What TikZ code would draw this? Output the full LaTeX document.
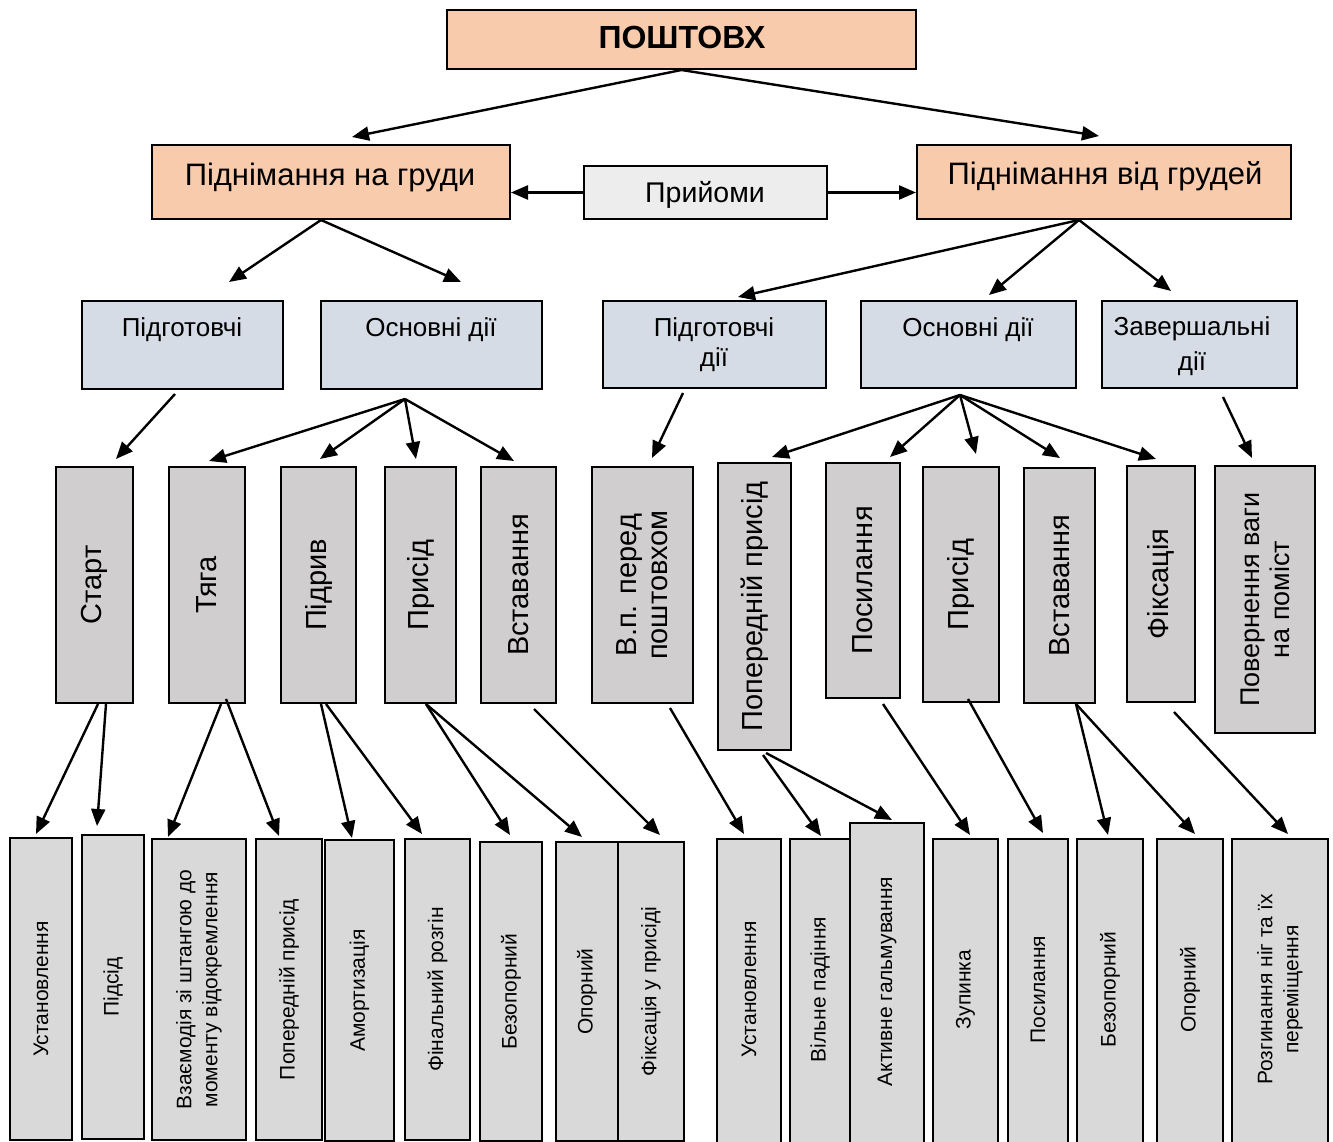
\documentclass[tikz,border=0pt]{standalone}
\usepackage{fontspec}
\setmainfont{Liberation Sans}
\usetikzlibrary{arrows.meta,fit}
\definecolor{peach}{HTML}{F8CBAD}
\definecolor{techfill}{HTML}{EDEDED}
\definecolor{phasefill}{HTML}{D6DCE5}
\definecolor{partfill}{HTML}{D0CECE}
\definecolor{elemfill}{HTML}{D9D9D9}
\begin{document}
\begin{tikzpicture}[x=1pt,y=-1pt,
  frame/.style={draw=black,line width=2pt,inner sep=0pt},
  mainbox/.style={frame,fill=peach},
  techbox/.style={frame,fill=techfill},
  phasebox/.style={frame,fill=phasefill},
  partbox/.style={frame,fill=partfill},
  elembox/.style={frame,fill=elemfill},
  ttl/.style={font=\fontsize{32}{36}\selectfont\bfseries,anchor=base,inner sep=0pt},
  big/.style={font=\fontsize{31}{36}\selectfont,anchor=base,inner sep=0pt},
  mid/.style={font=\fontsize{28.5}{32}\selectfont,anchor=base,inner sep=0pt},
  phase/.style={font=\fontsize{26}{30}\selectfont,anchor=base,inner sep=0pt},
  vpart/.style={font=\fontsize{29}{31}\selectfont,rotate=90,align=center,inner sep=0pt},
  vpartsm/.style={font=\fontsize{27}{30}\selectfont,rotate=90,align=center,inner sep=0pt},
  velem/.style={font=\fontsize{21}{26}\selectfont,rotate=90,align=center,inner sep=0pt},
  arr/.style={line width=2.4pt,-{Triangle[length=17pt,width=14pt]}},
]
\useasboundingbox (0,0) rectangle (1333,1142);
\fill[white] (0,0) rectangle (1333,1142);

% ---------- top levels ----------
\node[mainbox,fit={(447,10) (916,69)}] (top) {};
\node[ttl] (topt) at (682,49) {ПОШТОВХ};

\node[mainbox,fit={(152,145) (510,219)}] (L) {};
\node[big] (Lt) at (330,186) {Піднімання на груди};
\node[techbox,fit={(584,166) (827,219)}] (P) {};
\node[mid] (Pt) at (705,203) {Прийоми};
\node[mainbox,fit={(917,145) (1291,219)}] (R) {};
\node[big] (Rt) at (1105,185) {Піднімання від грудей};

% ---------- phases ----------
\node[phasebox,fit={(82,301) (283,389)}] (a) {};
\node[phase] (at) at (182,336) {Підготовчі};
\node[phasebox,fit={(321,301) (542,389)}] (b) {};
\node[phase] (bt) at (431,336) {Основні дії};
\node[phasebox,fit={(603,301) (826,388)}] (c) {};
\node[phase] (ct1) at (714,336) {Підготовчі};
\node[phase] (ct2) at (714,366) {дії};
\node[phasebox,fit={(861,301) (1076,388)}] (d) {};
\node[phase] (dt) at (968,336) {Основні дії};
\node[phasebox,fit={(1102,301) (1297,388)}] (e) {};
\node[phase] (et1) at (1192,335) {Завершальні};
\node[phase] (et2) at (1192,370) {дії};

% ---------- parts ----------
\node[partbox,fit={(56,467) (133,703)}] (c1) {};
\node[vpart] at (c1.center) {Старт};
\node[partbox,fit={(169,467) (245,703)}] (c2) {};
\node[vpart] at (c2.center) {Тяга};
\node[partbox,fit={(281,467) (356,703)}] (c3) {};
\node[vpart] at (c3.center) {Підрив};
\node[partbox,fit={(385,467) (456,703)}] (c4) {};
\node[vpart] at (c4.center) {Присід};
\node[partbox,fit={(481,467) (556,703)}] (c5) {};
\node[vpart] at (c5.center) {Вставання};
\node[partbox,fit={(592,467) (693,703)}] (c6) {};
\node[vpart] at (c6.center) {В.п. перед\\поштовхом};
\node[partbox,fit={(718,463) (791,750)}] (c7) {};
\node[vpart] at (c7.center) {Попередній присід};
\node[partbox,fit={(826,463) (900,698)}] (c8) {};
\node[vpart] at (c8.center) {Посилання};
\node[partbox,fit={(923,467) (999,702)}] (c9) {};
\node[vpart] at (c9.center) {Присід};
\node[partbox,fit={(1024,468) (1095,703)}] (c10) {};
\node[vpart] at (c10.center) {Вставання};
\node[partbox,fit={(1127,466) (1195,702)}] (c11) {};
\node[vpart] at (c11.center) {Фіксація};
\node[partbox,fit={(1215,466) (1315,733)}] (c12) {};
\node[vpartsm] at (c12.center) {Повернення ваги\\на поміст};

% ---------- elements ----------
\node[elembox,fit={(10,838) (72,1140)}] (d1) {};
\node[velem] at (d1.center) {Установлення};
\node[elembox,fit={(82,835) (144,1139)}] (d2) {};
\node[velem] at (d2.center) {Підсід};
\node[elembox,fit={(152,839) (246,1140)}] (d3) {};
\node[velem] at (d3.center) {Взаємодія зі штангою до\\моменту відокремлення};
\node[elembox,fit={(256,839) (322,1140)}] (d4) {};
\node[velem] at (d4.center) {Попередній присід};
\node[elembox,fit={(325,840) (394,1141)}] (d5) {};
\node[velem] at (d5.center) {Амортизація};
\node[elembox,fit={(405,839) (470,1140)}] (d6) {};
\node[velem] at (d6.center) {Фінальний розгін};
\node[elembox,fit={(480,842) (542,1141)}] (d7) {};
\node[velem] at (d7.center) {Безопорний};
\node[elembox,fit={(556,842) (618,1141)}] (d8) {};
\node[velem] at (d8.center) {Опорний};
\node[elembox,fit={(618,842) (684,1141)}] (d9) {};
\node[velem] at (d9.center) {Фіксація у присіді};

\node[elembox,fit={(717,839) (781,1146)}] (e1) {};
\node[velem] at ([yshift=3pt]e1.center) {Установлення};
\node[elembox,fit={(790,839) (850,1146)}] (e2) {};
\node[velem] at ([yshift=3pt]e2.center) {Вільне падіння};
\node[elembox,fit={(850,823) (924,1146)}] (e3) {};
\node[velem] at ([yshift=3pt]e3.center) {Активне гальмування};
\node[elembox,fit={(933,839) (998,1146)}] (e4) {};
\node[velem] at ([yshift=3pt]e4.center) {Зупинка};
\node[elembox,fit={(1008,839) (1068,1146)}] (e5) {};
\node[velem] at ([yshift=3pt]e5.center) {Посилання};
\node[elembox,fit={(1077,839) (1143,1146)}] (e6) {};
\node[velem] at ([yshift=3pt]e6.center) {Безопорний};
\node[elembox,fit={(1157,839) (1223,1146)}] (e7) {};
\node[velem] at ([yshift=3pt]e7.center) {Опорний};
\node[elembox,fit={(1232,839) (1328,1146)}] (e8) {};
\node[velem] at ([yshift=3pt]e8.center) {Розгинання ніг та їх\\переміщення};

% ---------- connectors: top levels ----------
\draw[arr] (top.south) -- ([xshift=201pt,yshift=7pt]L.north west);
\draw[arr] (top.south) -- ([xshift=183pt,yshift=8pt]R.north west);
\draw[arr] (P.west) -- (P.west -| L.east);
\draw[arr] (P.east) -- (P.east -| R.west);

% ---------- connectors: to phases ----------
\coordinate (Ls) at ([xshift=170pt]L.south west);
\coordinate (Rs) at ([xshift=163pt]R.south west);
\draw[arr] (Ls) -- ([xshift=148pt,yshift=18pt]a.north west);
\draw[arr] (Ls) -- ([xshift=141pt,yshift=18pt]b.north west);
\draw[arr] (Rs) -- ([xshift=136pt,yshift=3pt]c.north west);
\draw[arr] (Rs) -- ([xshift=129pt,yshift=5pt]d.north west);
\draw[arr] (Rs) -- ([xshift=70pt,yshift=9pt]e.north west);

% ---------- connectors: to parts ----------
\coordinate (as) at ([xshift=94pt,yshift=-4pt]a.south west);
\coordinate (bs) at ([xshift=85pt,yshift=-9pt]b.south west);
\coordinate (cs) at ([xshift=81pt,yshift=-4pt]c.south west);
\coordinate (ds) at ([xshift=100pt,yshift=-6pt]d.south west);
\coordinate (es) at ([xshift=122pt,yshift=-8pt]e.south west);
\draw[arr] (as) -- ([xshift=61pt,yshift=7pt]c1.north west);
\draw[arr] (bs) -- ([xshift=41pt,yshift=5pt]c2.north west);
\draw[arr] (bs) -- ([xshift=40pt,yshift=7pt]c3.north west);
\draw[arr] (bs) -- ([xshift=32pt,yshift=7pt]c4.north west);
\draw[arr] (bs) -- ([xshift=34pt,yshift=5pt]c5.north west);
\draw[arr] (cs) -- ([xshift=61pt,yshift=8pt]c6.north west);
\draw[arr] (ds) -- ([xshift=55pt,yshift=5pt]c7.north west);
\draw[arr] (ds) -- ([xshift=65pt,yshift=5pt]c8.north west);
\draw[arr] (ds) -- ([xshift=54pt,yshift=12pt]c9.north west);
\draw[arr] (ds) -- ([xshift=37pt,yshift=9pt]c10.north west);
\draw[arr] (ds) -- ([xshift=30pt,yshift=6pt]c11.north west);
\draw[arr] (es) -- ([xshift=38pt,yshift=7pt]c12.north west);

% ---------- connectors: to elements ----------
\draw[arr] ([xshift=43pt]c1.south west) -- ([xshift=27pt,yshift=3pt]d1.north west);
\draw[arr] ([xshift=51pt]c1.south west) -- ([xshift=16pt,yshift=8pt]d2.north west);
\draw[arr] ([xshift=53pt]c2.south west) -- ([xshift=17pt,yshift=1pt]d3.north west);
\draw[arr] ([xshift=58pt,yshift=5pt]c2.south west) -- ([xshift=24pt,yshift=2pt]d4.north west);
\draw[arr] ([xshift=41pt]c3.south west) -- ([xshift=28pt,yshift=1pt]d5.north west);
\draw[arr] ([xshift=46pt]c3.south west) -- ([xshift=18pt,yshift=4pt]d6.north west);
\draw[arr] ([xshift=42pt]c4.south west) -- ([xshift=31pt,yshift=6pt]d7.north west);
\draw[arr] ([xshift=42pt]c4.south west) -- ([xshift=27pt,yshift=4pt]d8.north west);
\draw[arr] ([xshift=54pt,yshift=-5pt]c5.south west) -- ([xshift=43pt,yshift=6pt]d9.north west);
\draw[arr] ([xshift=79pt,yshift=-4pt]c6.south west) -- ([xshift=28pt,yshift=4pt]e1.north west);
\draw[arr] ([xshift=46pt,yshift=-4pt]c7.south west) -- ([xshift=32pt,yshift=2pt]e2.north west);
\draw[arr] ([xshift=49pt,yshift=-2pt]c7.south west) -- ([xshift=43pt,yshift=2pt]e3.north west);
\draw[arr] ([xshift=58pt,yshift=-5pt]c8.south west) -- ([xshift=38pt,yshift=3pt]e4.north west);
\draw[arr] ([xshift=46pt,yshift=4pt]c9.south west) -- ([xshift=36pt,yshift=5pt]e5.north west);
\draw[arr] ([xshift=53pt]c10.south west) -- ([xshift=32pt,yshift=3pt]e6.north west);
\draw[arr] ([xshift=53pt]c10.south west) -- ([xshift=39pt,yshift=4pt]e7.north west);
\draw[arr] ([xshift=48pt,yshift=-9pt]c11.south west) -- ([xshift=57pt,yshift=4pt]e8.north west);
\end{tikzpicture}
\end{document}
